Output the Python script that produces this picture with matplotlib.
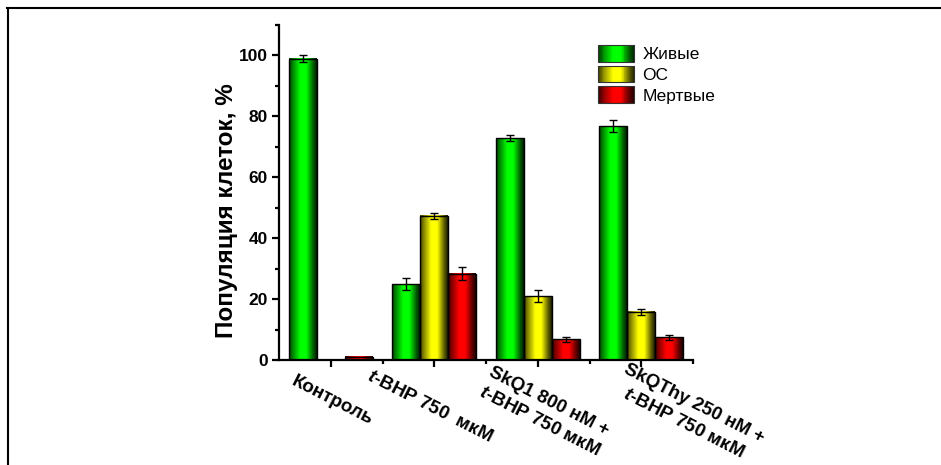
import numpy as np
import matplotlib
matplotlib.use("Agg")
from matplotlib import pyplot as plt
from matplotlib.colors import to_rgb
from matplotlib.patches import Rectangle
from matplotlib.lines import Line2D
from matplotlib.legend_handler import HandlerBase
from matplotlib.transforms import offset_copy

plt.rcParams['font.family'] = ['Liberation Sans', 'DejaVu Sans']
plt.rcParams['mathtext.fontset'] = 'custom'
plt.rcParams['mathtext.it'] = 'Liberation Sans:bold:italic'
plt.rcParams['mathtext.rm'] = 'Liberation Sans:bold'

# data
groups = ["Контроль", "$t$-BHP 750  мкМ",
          "SkQ1 800 нМ +\n$t$-BHP 750 мкМ",
          "SkQThy 250 нМ +\n$t$-BHP 750 мкМ"]
series = ["Живые", "ОС", "Мертвые"]
live = [99.0, 24.9, 72.8, 76.8]
live_err = [1.0, 2.0, 1.0, 2.0]
os_cells = [0.0, 47.3, 21.0, 15.8]
os_err = [0.0, 1.0, 2.0, 1.0]
dead = [1.0, 28.4, 6.8, 7.4]
dead_err = [0.0, 2.0, 0.8, 0.9]
colors = ["#00ff00", "#ffff00", "#ff0000"]

# where each rotated label starts, relative to its tick (pixels)
label_dx = [-34, -62, -44, -13]
label_dy = [-13, -8, -4, -1]


def shade(col, n=64):
    # dark edges, bright middle, like the Origin gradient fill
    t = np.linspace(0, 1, n)
    f = np.interp(t, [0, 0.12, 0.4, 0.62, 0.88, 1.0],
                  [0.25, 0.5, 1.0, 1.0, 0.35, 0.12])
    return f[:, None] * np.array(to_rgb(col))[None, :]


class GradHandler(HandlerBase):
    def create_artists(self, legend, orig_handle, xdescent, ydescent,
                       width, height, fontsize, trans):
        cols = shade(orig_handle.get_facecolor(), 40)
        n = len(cols)
        arts = []
        for i, c in enumerate(cols):
            arts.append(Rectangle((-xdescent + i * width / n, -ydescent),
                                  width / n * 1.05, height, facecolor=c,
                                  edgecolor='none', transform=trans))
        arts.append(Rectangle((-xdescent, -ydescent), width, height,
                              fill=False, edgecolor='#333333', lw=0.8,
                              transform=trans))
        return arts


fig = plt.figure(figsize=(9.41, 4.65), dpi=100)
ax = fig.add_axes([0.2965, 0.2258, 0.44, 0.7204])

x = np.arange(1, len(groups) + 1)
w = 0.27
handles = []
for k, (vals, errs, col) in enumerate(zip([live, os_cells, dead],
                                          [live_err, os_err, dead_err],
                                          colors)):
    pos = x + (k - 1) * w
    bars = ax.bar(pos, vals, w, facecolor='none', edgecolor='black',
                  linewidth=1, zorder=3)
    img = shade(col)[None, :, :]
    for b in bars:
        if b.get_height() <= 0:
            continue
        ax.imshow(img, extent=[b.get_x(), b.get_x() + b.get_width(),
                               0, b.get_height()],
                  aspect='auto', interpolation='bilinear', zorder=2)
    m = np.array(errs) > 0
    ax.errorbar(pos[m], np.array(vals)[m], yerr=np.array(errs)[m],
                fmt='none', ecolor='black', elinewidth=1, capsize=3,
                capthick=1, zorder=4)
    handles.append(Rectangle((0, 0), 1, 1, facecolor=col))

ax.set_xlim(0.5, 4.5)
ax.set_ylim(0, 110)
for s in ['top', 'right']:
    ax.spines[s].set_visible(False)
for s in ['left', 'bottom']:
    ax.spines[s].set_linewidth(1.6)

ax.set_yticks(np.arange(0, 101, 20))
ax.set_yticks(np.arange(10, 111, 20), minor=True)
ax.set_xticks(x)
ax.set_xticks(x + 0.5, minor=True)
ax.tick_params(which='major', direction='out', length=5, width=1.6,
               labelsize=12.5, pad=3)
ax.tick_params(which='minor', direction='out', length=3, width=1.6)
for lab in ax.get_yticklabels():
    lab.set_fontweight('bold')
ax.set_xticklabels([])

# rotated group labels, placed by hand like in the original
for xi, name, dx, dy in zip(x, groups, label_dx, label_dy):
    tr = offset_copy(ax.get_xaxis_transform(), fig=fig, x=dx, y=dy,
                     units='dots')
    ax.text(xi, 0, name, transform=tr, rotation=-27, rotation_mode='anchor',
            ha='left', va='top', multialignment='center', linespacing=1.35,
            fontsize=13.5, fontweight='bold', clip_on=False)

ax.set_ylabel("Популяция клеток, %", fontsize=17.5, fontweight='bold')
ax.yaxis.set_label_coords(-0.10, 0.446)

leg = fig.legend(handles, series, handler_map={Rectangle: GradHandler()},
                 loc='upper left', bbox_to_anchor=(598 / 941, 1 - 45 / 465),
                 frameon=False, fontsize=12.5, handlelength=2.1,
                 handleheight=1.1, labelspacing=0.2, handletextpad=0.45,
                 borderpad=0, borderaxespad=0)

# frame lines around the picture (left and top only)
fig.add_artist(Line2D([7.5 / 941, 7.5 / 941], [0, 1 - 8.5 / 465],
                      transform=fig.transFigure, color='black', lw=1.5))
fig.add_artist(Line2D([7 / 941, 1], [1 - 8.5 / 465, 1 - 8.5 / 465],
                      transform=fig.transFigure, color='black', lw=1.5))

fig.savefig("out.png", dpi=100)
